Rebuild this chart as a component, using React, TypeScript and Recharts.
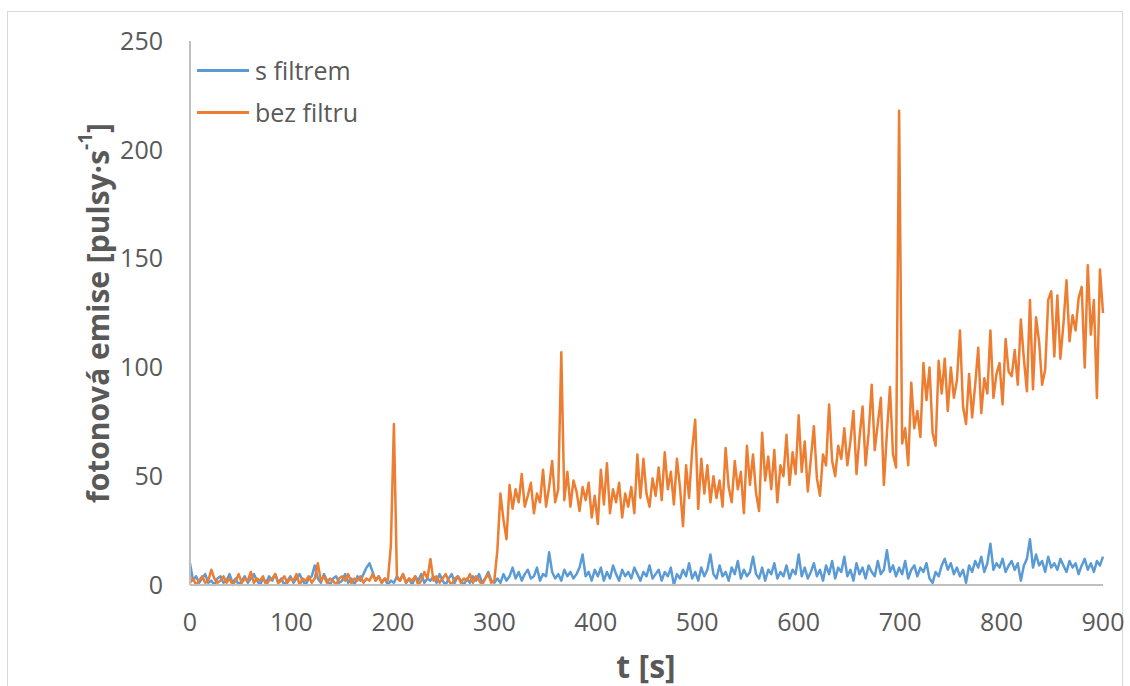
import React from "react";
import { LineChart, Line, XAxis, YAxis, Legend } from "recharts";

const FONT = "'Open Sans', 'Noto Sans', sans-serif";
const TEXT = "#595959";
const AXIS = "#bfbfbf";

// sampling step of the read-off values, in seconds
const T_STEP = 3;

// s filtrem, one value every 3 s from t = 0 (rows of 30 s)
const S_FILTREM = [
  10, 2, 4, 1, 3, 5, 1, 2, 0, 3,
  4, 1, 2, 5, 1, 3, 0, 2, 4, 1,
  3, 5, 2, 0, 3, 1, 4, 2, 5, 1,
  3, 0, 2, 4, 1, 3, 5, 2, 0, 3,
  4, 9, 3, 1, 5, 2, 0, 3, 4, 1,
  2, 5, 1, 3, 0, 4, 2, 5, 8, 10,
  6, 2, 4, 1, 3, 0, 2, 1, 4, 2,
  5, 1, 3, 0, 4, 2, 5, 1, 3, 2,
  4, 1, 5, 2, 0, 3, 5, 1, 4, 2,
  0, 3, 1, 4, 2, 5, 1, 3, 6, 2,
  1, 3, 1, 5, 2, 4, 8, 3, 6, 2,
  5, 7, 3, 4, 8, 2, 5, 4, 15, 6,
  3, 5, 2, 7, 4, 6, 3, 5, 8, 14,
  4, 6, 2, 7, 4, 8, 2, 6, 3, 9,
  5, 2, 7, 4, 6, 3, 8, 5, 2, 6,
  4, 9, 3, 5, 7, 2, 6, 4, 8, 0,
  5, 3, 7, 4, 10, 3, 6, 2, 8, 4,
  7, 14, 5, 3, 9, 4, 6, 2, 8, 5,
  11, 3, 7, 4, 6, 13, 5, 3, 8, 2,
  7, 5, 10, 3, 6, 4, 9, 3, 7, 5,
  14, 4, 8, 3, 6, 10, 4, 7, 2, 9,
  5, 11, 3, 8, 6, 13, 4, 7, 2, 10,
  5, 8, 3, 9, 6, 4, 11, 5, 7, 16,
  6, 9, 4, 8, 5, 11, 3, 7, 9, 4,
  8, 6, 10, 3, 1, 6, 4, 9, 12, 7,
  10, 5, 8, 4, 7, 1, 9, 6, 11, 8,
  13, 6, 10, 19, 7, 10, 8, 12, 6, 9,
  11, 7, 10, 2, 9, 12, 21, 8, 14, 9,
  11, 6, 13, 8, 10, 7, 12, 9, 6, 11,
  8, 10, 5, 9, 12, 7, 10, 6, 11, 9,
  13,
];

// bez filtru, same time grid
const BEZ_FILTRU = [
  1, 3, 0, 2, 4, 1, 2, 7, 3, 1,
  2, 4, 1, 3, 0, 2, 5, 1, 3, 2,
  6, 1, 3, 2, 4, 0, 2, 3, 5, 1,
  2, 4, 1, 3, 2, 5, 0, 3, 2, 4,
  1, 3, 10, 2, 4, 1, 3, 2, 0, 3,
  4, 2, 5, 1, 3, 2, 4, 1, 3, 2,
  5, 2, 4, 1, 3, 2, 18, 74, 3, 2,
  5, 1, 3, 2, 4, 0, 2, 6, 3, 12,
  2, 4, 1, 3, 5, 2, 0, 3, 4, 1,
  3, 2, 5, 1, 4, 2, 0, 3, 5, 1,
  2, 16, 42, 30, 21, 46, 35, 44, 38, 51,
  36, 41, 47, 33, 42, 38, 53, 36, 45, 57,
  38, 44, 107, 39, 52, 36, 48, 43, 34, 45,
  39, 47, 31, 41, 28, 53, 37, 56, 33, 44,
  38, 47, 31, 42, 36, 45, 33, 60, 40, 58,
  42, 36, 49, 41, 54, 39, 61, 44, 52, 37,
  58, 45, 27, 55, 40, 62, 76, 35, 58, 42,
  55, 38, 50, 40, 48, 36, 63, 45, 38, 57,
  44, 52, 33, 64, 46, 60, 42, 34, 70, 48,
  59, 44, 62, 38, 55, 50, 69, 46, 61, 51,
  78, 52, 66, 43, 58, 73, 49, 41, 60, 55,
  83, 57, 50, 64, 58, 72, 55, 66, 80, 51,
  68, 82, 55, 70, 92, 62, 74, 86, 46, 70,
  91, 60, 54, 218, 65, 72, 55, 93, 72, 80,
  68, 102, 85, 100, 70, 64, 103, 88, 104, 80,
  100, 86, 94, 117, 82, 74, 97, 77, 92, 109,
  79, 95, 88, 117, 86, 97, 102, 83, 113, 98,
  96, 108, 92, 122, 104, 89, 131, 90, 123, 112,
  92, 99, 131, 135, 105, 133, 104, 120, 140, 112,
  124, 117, 132, 137, 100, 147, 115, 131, 86, 145,
  125,
];

const X_TICKS = [0, 100, 200, 300, 400, 500, 600, 700, 800, 900];
const Y_TICKS = [0, 50, 100, 150, 200, 250];

const SERIES = [
  { key: "s", name: "s filtrem", color: "#5b9bd5" },
  { key: "b", name: "bez filtru", color: "#ed7d31" },
];

const data = BEZ_FILTRU.map((b, i) => ({ t: i * T_STEP, s: S_FILTREM[i], b }));

function LegendBox() {
  return (
    <div style={{ fontFamily: FONT, fontSize: 25, color: TEXT }}>
      {SERIES.map((s) => (
        <div key={s.key} style={{ display: "flex", alignItems: "center", height: 42 }}>
          <span style={{ display: "inline-block", width: 52, height: 3, background: s.color, marginRight: 6 }} />
          {s.name}
        </div>
      ))}
    </div>
  );
}

function YTitle() {
  return (
    <text
      x={97}
      y={313}
      transform="rotate(-90 97 313)"
      textAnchor="middle"
      dominantBaseline="central"
      fill={TEXT}
      fontFamily={FONT}
      fontWeight={700}
      fontSize={30}
    >
      fotonová emise [pulsy·s
      <tspan dy={-12} fontSize={19}>-1</tspan>
      <tspan dy={12}>]</tspan>
    </text>
  );
}

function XTitle() {
  return (
    <text x={646} y={678} textAnchor="middle" fill={TEXT} fontFamily={FONT} fontWeight={700} fontSize={32}>
      t [s]
    </text>
  );
}

export default function App() {
  return (
    <div style={{ position: "absolute", left: 0, top: 0, width: 1130, height: 686, overflow: "hidden", background: "#fff" }}>
      <div
        style={{
          position: "absolute",
          left: 7,
          top: 11,
          width: 1114,
          height: 720,
          border: "1px solid #d9d9d9",
        }}
      />
      <LineChart width={1130} height={686} data={data} margin={{ top: 41, right: 27, bottom: 41, left: 0 }}>
        <XAxis
          dataKey="t"
          type="number"
          domain={[0, 900]}
          ticks={X_TICKS}
          height={60}
          stroke={AXIS}
          strokeWidth={2}
          tickLine={false}
          tickSize={0}
          tickMargin={28}
          tick={{ fill: TEXT, fontFamily: FONT, fontSize: 25 }}
          label={{ content: XTitle }}
        />
        <YAxis
          type="number"
          domain={[0, 250]}
          ticks={Y_TICKS}
          width={190}
          stroke={AXIS}
          strokeWidth={2}
          tickLine={false}
          tickSize={0}
          tickMargin={27}
          tick={{ fill: TEXT, fontFamily: FONT, fontSize: 25 }}
          label={{ content: YTitle }}
        />
        <Legend
          content={LegendBox}
          layout="horizontal"
          verticalAlign="middle"
          align="center"
          wrapperStyle={{ left: 197, top: 49, width: 220 }}
        />
        {SERIES.map((s) => (
          <Line
            key={s.key}
            dataKey={s.key}
            name={s.name}
            type="linear"
            stroke={s.color}
            strokeWidth={2.5}
            strokeLinejoin="round"
            dot={false}
            activeDot={false}
            isAnimationActive={false}
          />
        ))}
      </LineChart>
    </div>
  );
}
